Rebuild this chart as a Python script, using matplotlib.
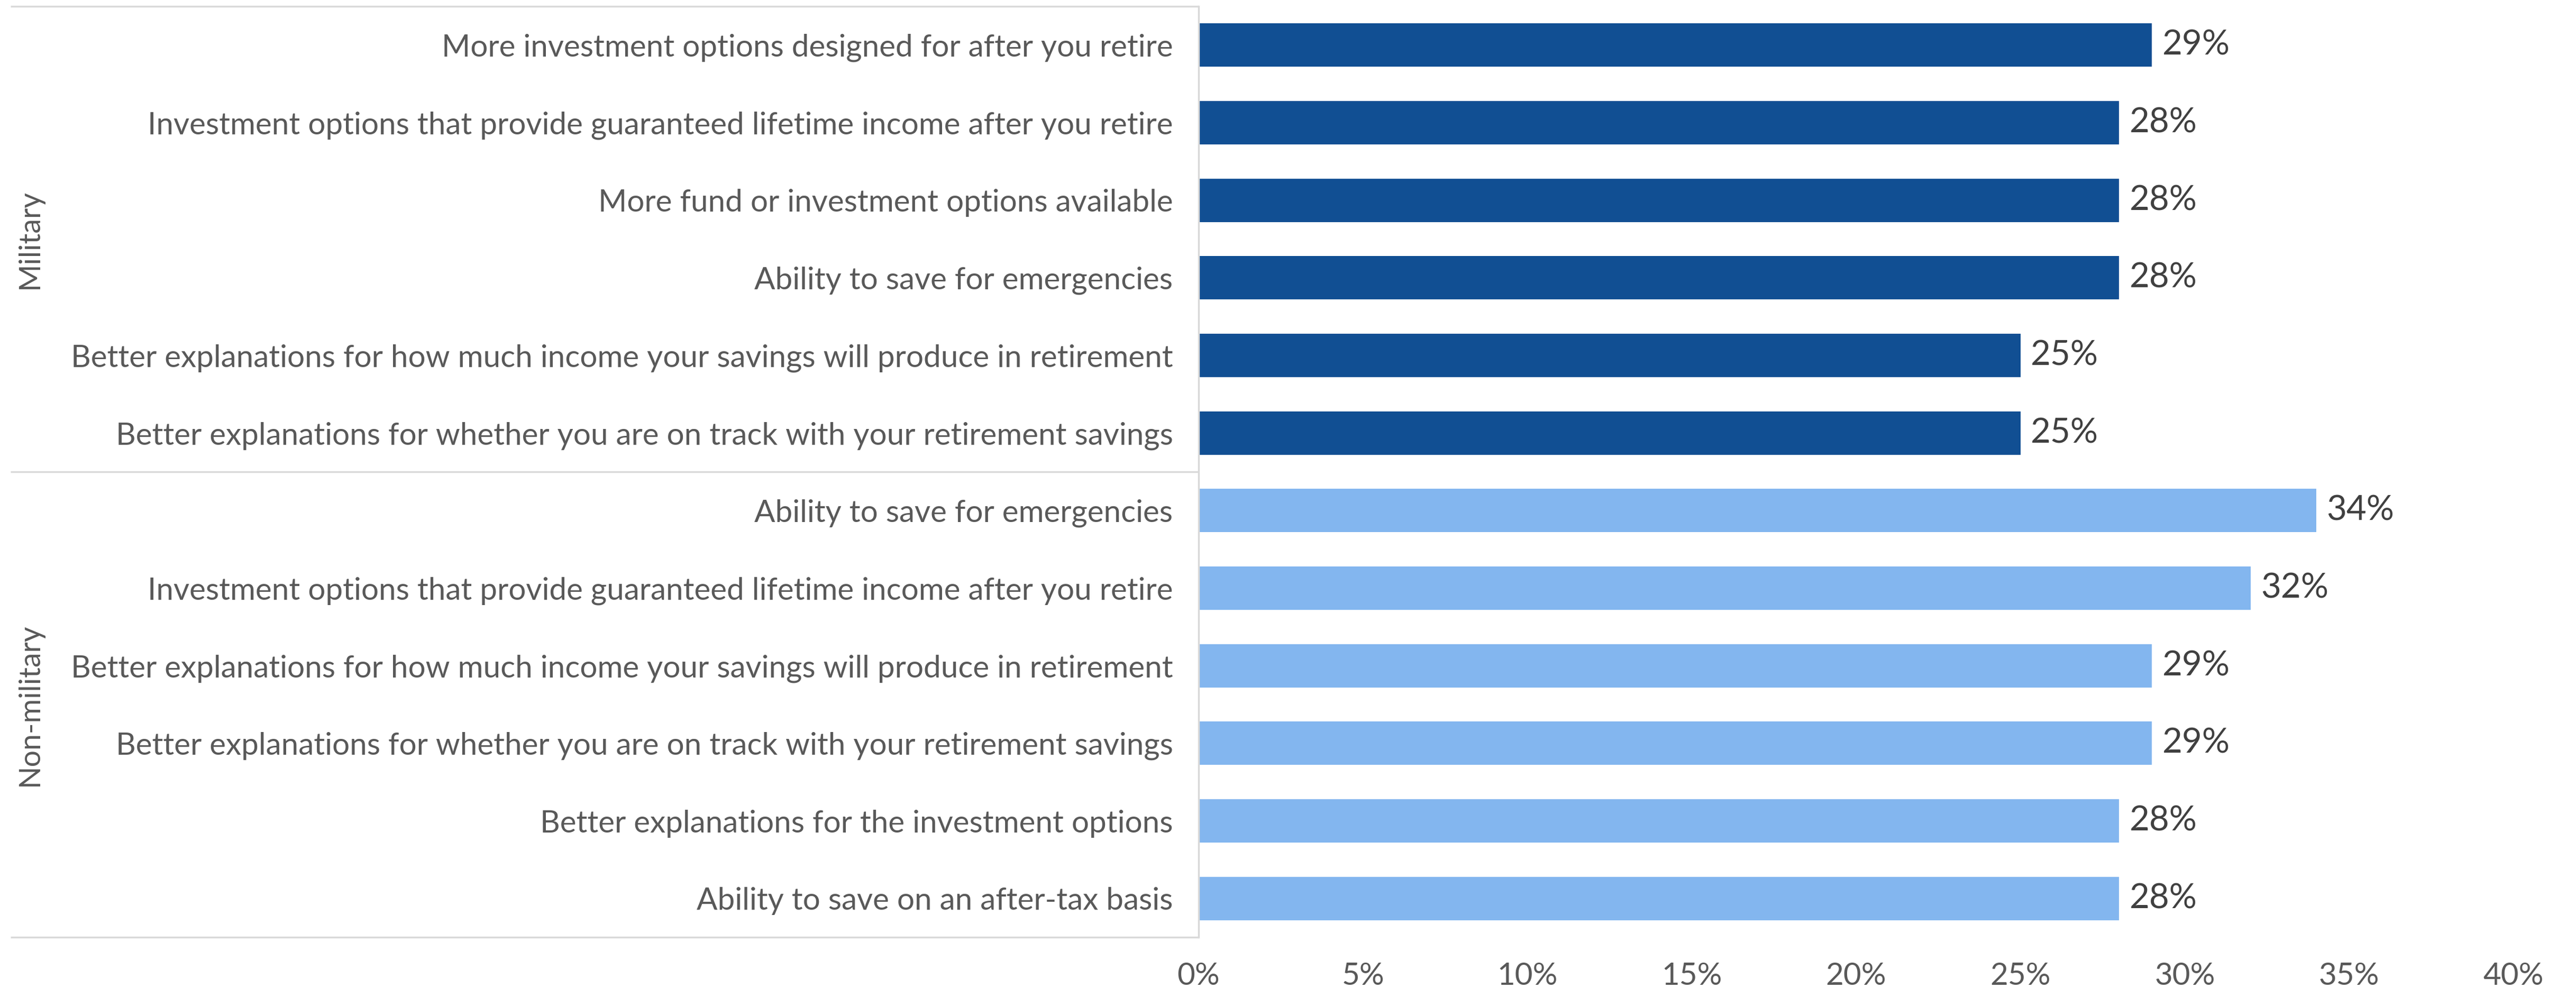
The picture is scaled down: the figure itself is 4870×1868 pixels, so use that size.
import matplotlib
matplotlib.use("Agg")
import matplotlib.pyplot as plt

# Survey data: features that would encourage more retirement saving
groups = ["Military", "Non-military"]
military_items = [
    "More investment options designed for after you retire",
    "Investment options that provide guaranteed lifetime income after you retire",
    "More fund or investment options available",
    "Ability to save for emergencies",
    "Better explanations for how much income your savings will produce in retirement",
    "Better explanations for whether you are on track with your retirement savings",
]
military_values = [29, 28, 28, 28, 25, 25]
nonmilitary_items = [
    "Ability to save for emergencies",
    "Investment options that provide guaranteed lifetime income after you retire",
    "Better explanations for how much income your savings will produce in retirement",
    "Better explanations for whether you are on track with your retirement savings",
    "Better explanations for the investment options",
    "Ability to save on an after-tax basis",
]
nonmilitary_values = [34, 32, 29, 29, 28, 28]
x_ticks = [0, 5, 10, 15, 20, 25, 30, 35, 40]

DARK = "#114F93"
LIGHT = "#83B6EF"
TEXT = "#595959"
VALUE_TEXT = "#404040"
RULE = "#D9D9D9"

plt.rcParams["font.family"] = ["Lato", "DejaVu Sans"]

labels = military_items + nonmilitary_items
values = military_values + nonmilitary_values
colors = [DARK] * len(military_values) + [LIGHT] * len(nonmilitary_values)
ypos = list(range(len(values)))

fig = plt.figure(figsize=(48.7, 18.68), dpi=100)
ax = fig.add_axes([2266 / 4870, 96 / 1868, 2486 / 4870, 1760 / 1868])

ax.barh(ypos, values, height=0.56, color=colors, zorder=2)
ax.set_ylim(len(values) - 0.5, -0.5)
ax.set_xlim(0, 40)

ax.set_yticks(ypos)
ax.set_yticklabels(labels, fontsize=42, color=TEXT)
ax.set_xticks(x_ticks)
ax.set_xticklabels([f"{t}%" for t in x_ticks], fontsize=42, color=TEXT)
ax.tick_params(axis="y", length=0, pad=35)
ax.tick_params(axis="x", length=0, pad=34)

for side in ["top", "right", "bottom"]:
    ax.spines[side].set_visible(False)
ax.spines["left"].set_color(RULE)
ax.spines["left"].set_linewidth(2.5)

# Value labels at bar ends
for y, v in zip(ypos, values):
    ax.annotate(f"{v}%", xy=(v, y), xytext=(14, 0), textcoords="offset points",
                va="center", ha="left", fontsize=47, color=VALUE_TEXT)

# Group frame rules spanning the label column
trans = ax.get_yaxis_transform()
left_edge = (20 - 2266) / 2486
n_mil = len(military_values)
for yline in [-0.5, n_mil - 0.5, len(values) - 0.5]:
    ax.plot([left_edge, 0], [yline, yline], transform=trans, color=RULE,
            linewidth=2.5, clip_on=False, solid_capstyle="butt")

# Rotated group names
gx = (56 - 2266) / 2486
ax.text(gx, (n_mil - 1) / 2, groups[0], transform=trans, rotation=90,
        ha="center", va="center", fontsize=40, color=TEXT)
ax.text(gx, n_mil + (len(nonmilitary_values) - 1) / 2, groups[1], transform=trans,
        rotation=90, ha="center", va="center", fontsize=40, color=TEXT)

fig.savefig("out.png", dpi=100, facecolor="white")
